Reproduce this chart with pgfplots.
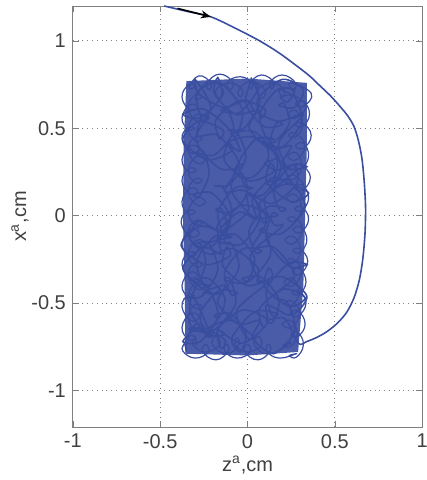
\documentclass[border=0pt]{standalone}
\usepackage{pgfplots}
\pgfplotsset{compat=1.18}
\usepackage{fontspec}
\setmainfont{Liberation Sans}
\usetikzlibrary{arrows.meta}
\definecolor{traj}{RGB}{58,78,160}
\definecolor{axgray}{RGB}{128,128,128}
\definecolor{gridgray}{RGB}{130,130,130}

\begin{document}
\begin{tikzpicture}
\begin{axis}[
  scale only axis, width=175pt, height=211pt,
  xmin=-1, xmax=1, ymin=-1.21, ymax=1.2,
  xtick={-1,-0.5,0,0.5,1}, ytick={-1,-0.5,0,0.5,1},
  tick align=inside, major tick length=3pt,
  tick style={axgray}, axis line style={axgray},
  grid=major, grid style={gridgray, dotted, line width=0.5pt},
  /pgf/number format/assume math mode=true,
  tick label style={font=\fontsize{10}{12}\selectfont, text=black!75},
  label style={font=\fontsize{10}{12}\selectfont, text=black!75},
  xlabel={z\textsuperscript{a},cm}, ylabel={x\textsuperscript{a},cm},
  xlabel style={at={(axis description cs:0.5,-0.09)}, anchor=center},
  ylabel style={at={(axis description cs:-0.151,0.5)}, anchor=center},
]
% dense core of the tangle
\addplot[draw=none, fill=traj!92!white] coordinates {
  (-0.355,-0.79) (0.0,-0.80) (0.29,-0.78) (0.32,-0.4) (0.33,0.0) (0.34,0.4)
  (0.34,0.76) (0.0,0.785) (-0.35,0.77) (-0.365,0.4) (-0.37,0.0) (-0.36,-0.4)} -- cycle;
% trajectory: approach from above, then the tangle
\addplot[traj, line width=0.8pt, smooth, tension=0.5] coordinates {
  (-0.477,1.2) (-0.35,1.17) (-0.21,1.138) (-0.07,1.073) (0.07,1.0) (0.19,0.925)
  (0.343,0.81) (0.41,0.748) (0.477,0.684) (0.53,0.625) (0.575,0.57) (0.61,0.51)
  (0.635,0.43) (0.655,0.33) (0.668,0.2) (0.676,0.05) (0.673,-0.1)
  (0.66,-0.25) (0.64,-0.37) (0.61,-0.47) (0.57,-0.55) (0.52,-0.61) (0.46,-0.66)
  (0.40,-0.695) (0.34,-0.72) (0.29,-0.73)
  (0.215,-0.59) (0.11,-0.60) (0.145,-0.61) (0.18,-0.48) (0.075,-0.35)
  (-0.03,-0.36) (0.005,-0.37) (0.04,-0.24) (-0.065,-0.11) (-0.17,-0.12) (-0.135,-0.13)
  (-0.10,0.0) (-0.205,0.13) (-0.31,0.12) (-0.275,0.11) (-0.22,0.24) (-0.255,0.37)
  (-0.29,0.36) (-0.185,0.35) (-0.08,0.48) (-0.115,0.61) (-0.15,0.60) (-0.045,0.59)
  (0.06,0.72) (0.025,0.77) (-0.01,0.64) (0.095,0.51) (0.20,0.52) (0.165,0.53)
  (0.13,0.40) (0.235,0.27) (0.34,0.28) (0.255,0.29) (0.15,0.16) (0.185,0.03)
  (0.22,0.04) (0.115,0.05) (0.01,-0.08) (0.045,-0.21) (0.08,-0.20) (-0.025,-0.19)
  (-0.13,-0.32) (-0.095,-0.45) (-0.06,-0.44) (-0.165,-0.43) (-0.27,-0.56) (-0.235,-0.69)
  (-0.20,-0.68) (-0.30,-0.64) (-0.33,-0.65) (-0.20,-0.66) (-0.07,-0.51) (-0.10,-0.36)
  (-0.13,-0.37) (0.0,-0.38) (0.13,-0.23) (0.10,-0.08) (0.07,-0.09) (0.20,-0.10)
  (0.33,0.05) (0.24,0.20) (0.11,0.19) (0.14,0.18) (0.17,0.33) (0.04,0.48)
  (-0.09,0.47) (-0.06,0.46) (-0.03,0.61) (-0.16,0.76) (-0.29,0.70) (-0.26,0.55)
  (-0.22,0.56) (-0.26,0.57) (-0.29,0.42) (-0.16,0.27) (-0.03,0.28) (-0.06,0.29)
  (-0.09,0.14) (0.04,-0.01) (0.17,0.0) (0.14,0.01) (0.11,-0.14) (0.24,-0.29)
  (0.34,-0.28) (0.24,-0.27) (0.11,-0.42) (0.14,-0.57) (0.17,-0.56) (0.04,-0.55)
  (-0.09,-0.70) (-0.04,-0.78) (-0.01,-0.67) (-0.10,-0.56) (-0.19,-0.57) (-0.16,-0.58)
  (-0.13,-0.47) (-0.22,-0.36) (-0.31,-0.37) (-0.28,-0.38) (-0.24,-0.27) (-0.27,-0.16)
  (-0.30,-0.17) (-0.21,-0.18) (-0.12,-0.07) (-0.15,0.04) (-0.18,0.03) (-0.09,0.02)
  (0.0,0.13) (-0.03,0.24) (-0.06,0.23) (0.03,0.22) (0.12,0.33) (0.09,0.44)
  (0.06,0.43) (0.15,0.42) (0.24,0.53) (0.21,0.64) (0.18,0.63) (0.27,0.62)
  (0.32,0.72) (0.20,0.78) (0.06,0.67) (0.08,0.56) (0.10,0.61) (-0.04,0.66)
  (-0.18,0.55) (-0.16,0.44) (-0.14,0.49) (-0.28,0.54) (-0.37,0.43) (-0.23,0.32)
  (-0.09,0.37) (-0.11,0.42) (-0.13,0.31) (0.01,0.20) (0.15,0.25) (0.13,0.30)
  (0.11,0.19) (0.25,0.08) (0.35,0.13) (0.21,0.18) (0.07,0.07) (0.09,-0.04)
  (0.11,0.01) (-0.03,0.06) (-0.17,-0.05) (-0.15,-0.16) (-0.13,-0.11) (-0.27,-0.06)
  (-0.38,-0.17) (-0.24,-0.28) (-0.10,-0.23) (-0.12,-0.18) (-0.14,-0.29) (0.0,-0.40)
  (0.14,-0.35) (0.12,-0.30) (0.10,-0.41) (0.24,-0.52) (0.33,-0.47) (0.21,-0.42)
  (0.07,-0.53) (0.09,-0.64) (0.11,-0.59) (-0.03,-0.54) (-0.17,-0.65) (-0.15,-0.76)
  (-0.13,-0.71) (-0.27,-0.64) (-0.37,-0.72) (-0.27,-0.72) (-0.17,-0.58) (-0.21,-0.44)
  (-0.25,-0.44) (-0.15,-0.44) (-0.05,-0.30) (-0.09,-0.16) (-0.13,-0.16) (-0.03,-0.16)
  (0.07,-0.02) (0.03,0.12) (-0.01,0.12) (0.09,0.12) (0.19,0.26) (0.15,0.40)
  (0.11,0.40) (0.21,0.40) (0.31,0.54) (0.27,0.68) (0.19,0.68) (0.23,0.65)
  (0.27,0.72) (0.17,0.72) (0.07,0.58) (0.11,0.44) (0.15,0.44) (0.05,0.44)
  (-0.05,0.30) (-0.01,0.16) (0.03,0.16) (-0.07,0.16) (-0.17,0.02) (-0.13,-0.12)
  (-0.09,-0.12) (-0.19,-0.12) (-0.29,-0.26) (-0.25,-0.40) (-0.21,-0.40) (-0.29,-0.40)
  (-0.33,-0.54) (-0.23,-0.68) (-0.13,-0.68) (-0.17,-0.65) (-0.03,-0.73) (0.11,-0.62)
  (0.11,-0.51) (0.25,-0.57) (0.34,-0.46) (0.20,-0.35) (0.06,-0.38) (0.06,-0.30)
  (-0.08,-0.19) (-0.22,-0.22) (-0.33,-0.13) (-0.28,-0.03) (-0.20,-0.07) (-0.14,-0.09)
  (0.0,0.02) (0.0,0.13) (0.14,0.07) (0.28,0.18) (0.27,0.29) (0.17,0.26)
  (0.10,0.30) (0.17,0.34) (0.03,0.45) (-0.11,0.42) (-0.04,0.37) (-0.11,0.50)
  (-0.25,0.61) (-0.37,0.58) (-0.27,0.56) (-0.15,0.68) (-0.17,0.79) (-0.19,0.70)
  (-0.07,0.58) (0.05,0.60) (0.01,0.50) (0.13,0.38) (0.25,0.40) (0.20,0.30)
  (0.25,0.18) (0.15,0.22) (0.03,0.10) (0.05,-0.02) (-0.05,0.02) (-0.17,-0.10)
  (-0.15,-0.22) (-0.25,-0.18) (-0.37,-0.30) (-0.25,-0.42) (-0.13,-0.40) (-0.17,-0.50)
  (-0.05,-0.62) (0.07,-0.60) (0.03,-0.70) (0.15,-0.79) (0.27,-0.66) (0.23,-0.50)
  (0.15,-0.46) (0.27,-0.34) (0.15,-0.18) (0.03,-0.18) (0.11,-0.02) (-0.01,0.14)
  (-0.13,0.14) (-0.05,0.30) (-0.17,0.46) (-0.29,0.46) (-0.21,0.62) (-0.30,0.78)
  (-0.28,0.70) (-0.14,0.62) (0.0,0.66) (0.04,0.60) (0.18,0.54) (0.32,0.58)
  (0.18,0.42) (0.23,0.27) (0.28,0.26) (0.10,0.10) (0.15,-0.05) (0.20,-0.06)
  (0.02,-0.22) (0.07,-0.37) (0.12,-0.38) (-0.06,-0.54) (-0.01,-0.69) (0.04,-0.70)
  (-0.09,-0.60) (-0.22,-0.64) (-0.21,-0.68) (-0.30,-0.48) (-0.35,-0.47) (-0.26,-0.46)
  (-0.17,-0.31) (-0.22,-0.16) (-0.27,-0.15) (-0.18,-0.14) (-0.09,0.01) (-0.14,0.16)
  (-0.19,0.17) (-0.10,0.18) (-0.01,0.33) (-0.06,0.48) (-0.11,0.49) (-0.02,0.50)
  (0.07,0.65) (0.02,0.79)};
% small loops that run round the edge of the tangle
\addplot[traj, line width=0.6pt, smooth, tension=0.8] coordinates {
  (-0.375,-0.76) (-0.335,-0.69) (-0.295,-0.70) (-0.335,-0.71)
  (-0.375,-0.64) (-0.325,-0.56) (-0.275,-0.58) (-0.325,-0.60)
  (-0.375,-0.52) (-0.34,-0.455) (-0.305,-0.46) (-0.34,-0.465)
  (-0.375,-0.40) (-0.33,-0.325) (-0.285,-0.34) (-0.33,-0.355)
  (-0.375,-0.28) (-0.335,-0.21) (-0.295,-0.22) (-0.335,-0.23)
  (-0.375,-0.16) (-0.325,-0.08) (-0.275,-0.10) (-0.325,-0.12)
  (-0.38,-0.04) (-0.34,0.03) (-0.30,0.02) (-0.34,0.01)
  (-0.375,0.08) (-0.33,0.155) (-0.285,0.14) (-0.33,0.125)
  (-0.375,0.20) (-0.335,0.27) (-0.295,0.26) (-0.335,0.25)
  (-0.375,0.32) (-0.325,0.40) (-0.275,0.38) (-0.325,0.36)
  (-0.375,0.44) (-0.34,0.505) (-0.305,0.50) (-0.34,0.495)
  (-0.375,0.56) (-0.33,0.635) (-0.285,0.62) (-0.33,0.605)
  (-0.375,0.68) (-0.335,0.75) (-0.295,0.74) (-0.335,0.73)
  (-0.28,0.80) (-0.21,0.76) (-0.22,0.72) (-0.23,0.76)
  (-0.16,0.81) (-0.085,0.765) (-0.10,0.72) (-0.115,0.765)
  (-0.04,0.795) (0.025,0.76) (0.02,0.725) (0.015,0.76)
  (0.08,0.805) (0.15,0.765) (0.14,0.725) (0.13,0.765)
  (0.20,0.805) (0.275,0.76) (0.26,0.715) (0.245,0.76)
  (0.365,0.70) (0.32,0.625) (0.275,0.64) (0.32,0.655)
  (0.355,0.58) (0.315,0.51) (0.275,0.52) (0.315,0.53)
  (0.365,0.46) (0.32,0.385) (0.275,0.40) (0.32,0.415)
  (0.35,0.34) (0.31,0.27) (0.27,0.28) (0.31,0.29)
  (0.36,0.22) (0.315,0.145) (0.27,0.16) (0.315,0.175)
  (0.35,0.10) (0.31,0.03) (0.27,0.04) (0.31,0.05)
  (0.35,-0.02) (0.305,-0.095) (0.26,-0.08) (0.305,-0.065)
  (0.34,-0.14) (0.30,-0.21) (0.26,-0.20) (0.30,-0.19)
  (0.345,-0.26) (0.30,-0.335) (0.255,-0.32) (0.30,-0.305)
  (0.335,-0.38) (0.295,-0.45) (0.255,-0.44) (0.295,-0.43)
  (0.335,-0.50) (0.29,-0.575) (0.245,-0.56) (0.29,-0.545)
  (0.33,-0.62) (0.29,-0.69) (0.25,-0.68) (0.29,-0.67)
  (0.32,-0.74) (0.28,-0.81) (0.24,-0.80) (0.28,-0.79)
  (0.18,-0.815) (0.11,-0.775) (0.12,-0.735) (0.13,-0.775)
  (0.06,-0.825) (-0.015,-0.78) (0.0,-0.735) (0.015,-0.78)
  (-0.06,-0.815) (-0.13,-0.775) (-0.12,-0.735) (-0.11,-0.775)
  (-0.18,-0.825) (-0.255,-0.78) (-0.24,-0.735) (-0.225,-0.78)
  (-0.30,-0.815) (-0.37,-0.775) (-0.36,-0.735) (-0.35,-0.775)
  (-0.345,-0.70) (-0.295,-0.62) (-0.245,-0.64) (-0.295,-0.66)
  (-0.34,-0.58) (-0.30,-0.51) (-0.26,-0.52) (-0.30,-0.53)
  (-0.34,-0.46) (-0.29,-0.38) (-0.24,-0.40) (-0.29,-0.42)
  (-0.34,-0.34) (-0.30,-0.27) (-0.26,-0.28) (-0.30,-0.29)
  (-0.34,-0.22) (-0.29,-0.14) (-0.24,-0.16) (-0.29,-0.18)
  (-0.34,-0.10) (-0.30,-0.03) (-0.26,-0.04) (-0.30,-0.05)
  (-0.34,0.02) (-0.29,0.10) (-0.24,0.08) (-0.29,0.06)
  (-0.34,0.14) (-0.30,0.21) (-0.26,0.20) (-0.30,0.19)
  (-0.34,0.26) (-0.29,0.34) (-0.24,0.32) (-0.29,0.30)
  (-0.34,0.38) (-0.30,0.45) (-0.26,0.44) (-0.30,0.43)
  (-0.34,0.50) (-0.29,0.58) (-0.24,0.56) (-0.29,0.54)
  (-0.34,0.62) (-0.30,0.69) (-0.26,0.68) (-0.30,0.67)
  (-0.22,0.77) (-0.14,0.72) (-0.16,0.67) (-0.18,0.72)
  (-0.10,0.76) (-0.03,0.72) (-0.04,0.68) (-0.05,0.72)
  (0.02,0.77) (0.10,0.72) (0.08,0.67) (0.06,0.72)
  (0.14,0.76) (0.21,0.72) (0.20,0.68) (0.19,0.72)
  (0.33,0.64) (0.28,0.56) (0.23,0.58) (0.28,0.60)
  (0.315,0.52) (0.275,0.45) (0.235,0.46) (0.275,0.47)
  (0.33,0.40) (0.28,0.32) (0.23,0.34) (0.28,0.36)
  (0.31,0.28) (0.27,0.21) (0.23,0.22) (0.27,0.23)
  (0.325,0.16) (0.275,0.08) (0.225,0.10) (0.275,0.12)
  (0.31,0.04) (0.27,-0.03) (0.23,-0.02) (0.27,-0.01)
  (0.315,-0.08) (0.265,-0.16) (0.215,-0.14) (0.265,-0.12)
  (0.305,-0.20) (0.265,-0.27) (0.225,-0.26) (0.265,-0.25)
  (0.31,-0.32) (0.26,-0.40) (0.21,-0.38) (0.26,-0.36)
  (0.295,-0.44) (0.255,-0.51) (0.215,-0.50) (0.255,-0.49)
  (0.30,-0.56) (0.25,-0.64) (0.20,-0.62) (0.25,-0.60)
  (0.285,-0.68) (0.245,-0.75) (0.205,-0.74) (0.245,-0.73)
  (0.12,-0.79) (0.04,-0.74) (0.06,-0.69) (0.08,-0.74)
  (0.0,-0.78) (-0.07,-0.74) (-0.06,-0.70) (-0.05,-0.74)
  (-0.12,-0.79) (-0.20,-0.74) (-0.18,-0.69) (-0.16,-0.74)
  (-0.24,-0.78) (-0.31,-0.74) (-0.30,-0.70) (-0.29,-0.74)};
% direction arrow
\addplot[black, line width=0.8pt, -{Stealth[length=5pt,width=4pt]}] coordinates {
  (-0.40,1.186) (-0.21,1.138)};
\end{axis}
\pgfresetboundingbox
\path ([xshift=-36.5pt,yshift=-26.5pt]current axis.south west)
  rectangle ([xshift=2pt,yshift=3pt]current axis.north east);
\end{tikzpicture}
\end{document}
